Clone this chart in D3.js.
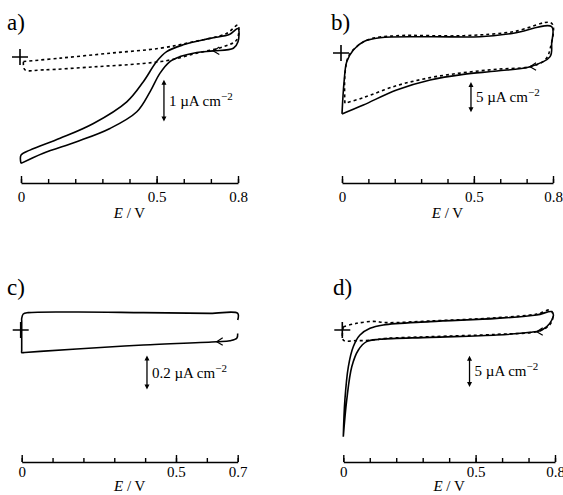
<!DOCTYPE html>
<html>
<head>
<meta charset="utf-8">
<script src="https://cdn.jsdelivr.net/npm/d3@7"></script>
<style>
  body { margin: 0; background: #fff; }
  svg text { font-family: "Liberation Serif", "DejaVu Serif", serif; fill: #000; }
</style>
</head>
<body>
<div class="svg-container"></div>
<script>
// potential (V) vs current density (uA cm^-2)

// panel a
let aSolid = [
  [0, -2.8], [0, -2.58], [0.033, -2.45], [0.144, -2.14], [0.267, -1.75], [0.39, -1.18],
  [0.451, -0.65], [0.5, -0.12], [0.537, 0.14], [0.598, 0.32], [0.697, 0.49], [0.77, 0.6],
  [0.8, 0.75], [0.8, 0.4], [0.783, 0.23], [0.709, 0.16], [0.648, 0.12], [0.586, 0.01],
  [0.549, -0.12], [0.512, -0.43], [0.476, -0.91], [0.427, -1.44], [0.328, -1.88],
  [0.205, -2.23], [0.082, -2.53], [0, -2.8]
]
let aDashed = [
  [0.009, -0.12], [0.144, -0.03], [0.328, 0.1], [0.512, 0.23], [0.635, 0.4], [0.758, 0.62],
  [0.8, 0.84], [0.795, 0.45], [0.746, 0.27], [0.648, 0.1], [0.549, -0.08], [0.451, -0.17],
  [0.267, -0.26], [0.082, -0.34], [0.015, -0.34], [0.009, -0.21], [0.009, -0.12]
]

// panel b
let bSolid = [
  [0, -10.5], [0.008, -4.9], [0.018, -1.5], [0.043, 0.52], [0.081, 1.95], [0.144, 2.64],
  [0.334, 2.81], [0.523, 2.81], [0.65, 3.4], [0.795, 4.53], [0.795, 1.67], [0.789, -0.63],
  [0.713, -2.36], [0.587, -3.1], [0.46, -3.68], [0.334, -4.66], [0.207, -6.38],
  [0.081, -8.97], [0, -10.5]
]
let bDashed = [
  [0.011, -8.67], [0.011, -3.79], [0.024, -0.63], [0.056, 1.09], [0.106, 2.41], [0.207, 2.98],
  [0.46, 2.98], [0.65, 3.67], [0.795, 5.12], [0.791, 1.09], [0.77, -1.2], [0.713, -2.36],
  [0.587, -2.8], [0.46, -3.4], [0.334, -4.25], [0.207, -5.63], [0.081, -7.7], [0.011, -8.67]
]

// panel c
let cSolid = [
  [0.7, -0.02], [0.697, -0.049], [0.675, -0.063], [0.632, -0.069], [0.394, -0.088],
  [0.178, -0.112], [0.06, -0.126], [0.01, -0.132], [0, -0.133], [0, -0.12], [0, 0.05],
  [0, 0.069], [0.005, 0.094], [0.021, 0.102], [0.178, 0.106], [0.394, 0.102], [0.61, 0.098],
  [0.7, 0.098], [0.7, 0.059]
]

// panel d
let dSolid = [
  [0, -17.4], [0.006, -11.4], [0.019, -6.0], [0.038, -2.7], [0.063, -0.82], [0.101, 0.27],
  [0.151, 0.82], [0.328, 1.36], [0.58, 1.9], [0.731, 2.45], [0.788, 3.0], [0.794, 2.45],
  [0.788, 1.63], [0.769, 0.54], [0.743, -0.11], [0.706, -0.38], [0.58, -0.82], [0.328, -1.2],
  [0.139, -1.52], [0.088, -1.9], [0.057, -3.26], [0.032, -6.0], [0.013, -11.4], [0, -17.4]
]
let dDashed = [
  [0, 0.54], [0.05, 1.09], [0.113, 1.4], [0.164, 1.2], [0.328, 1.47], [0.58, 2.0], [0.731, 2.6],
  [0.781, 3.26], [0.791, 2.72], [0.788, 1.36], [0.769, 0.43], [0.731, -0.27], [0.58, -0.71],
  [0.328, -1.09], [0.164, -1.36], [0.113, -1.63], [0.05, -1.74], [0, -1.63], [0, 0.54]
]

let aTicks = [0, 0.1, 0.2, 0.3, 0.4, 0.5, 0.6, 0.7, 0.8]
let bTicks = [0, 0.1, 0.2, 0.3, 0.4, 0.5, 0.6, 0.7, 0.8]
let cTicks = [0, 0.1, 0.2, 0.3, 0.4, 0.5, 0.6, 0.7]
let dTicks = [0, 0.1, 0.2, 0.3, 0.4, 0.5, 0.6, 0.7, 0.8]
let aLabels = [0, 0.5, 0.8]
let bLabels = [0, 0.5, 0.8]
let cLabels = [0, 0.5, 0.7]
let dLabels = [0, 0.5, 0.8]

// scale bars: [E, I top, I bottom], text
let aBar = [0.527, -0.6, -1.7], aBarText = '1'
let bBar = [0.489, -5.0, -10.2], bBarText = '5'
let cBar = [0.406, -0.15, -0.35], cBarText = '0.2'
let dBar = [0.477, -4.2, -9.3], dBarText = '5'

// scan-direction arrows on the return sweep
let aArrow = [0.709, 0.16]
let bArrow = [0.713, -2.36]
let cArrow = [0.632, -0.069]
let dArrow = [0.731, -0.3]

let width = 563
let height = 495

let svg = d3.select('.svg-container')
  .append('svg')
  .attr('width', width)
  .attr('height', height)

function drawPanel (p) {
  let xScale = d3.scaleLinear()
    .domain([0, p.xMax])
    .range([p.x0, p.x1])

  let yScale = d3.scaleLinear()
    .domain([0, 1])
    .range([p.zeroY, p.zeroY - p.pxPerUnit])

  let g = svg.append('g')

  // panel letter
  g.append('text')
    .attr('x', p.labelX)
    .attr('y', p.labelY)
    .style('font-size', '23px')
    .text(p.name)

  // minor ticks
  let minorAxis = d3.axisBottom(xScale)
    .tickValues(p.ticks)
    .tickSize(-4)
    .tickSizeOuter(0)
    .tickFormat('')
  g.append('g')
    .attr('transform', `translate(0, ${p.axisY})`)
    .call(minorAxis)
    .call(s => s.select('.domain').attr('stroke-width', 1.6))
    .call(s => s.selectAll('.tick line').attr('stroke-width', 1.4))

  // labelled ticks
  let majorAxis = d3.axisBottom(xScale)
    .tickValues(p.labels)
    .tickSize(-7)
    .tickSizeOuter(0)
    .tickPadding(p.labelGap)
    .tickFormat(d => String(d))
  g.append('g')
    .attr('transform', `translate(0, ${p.axisY})`)
    .call(majorAxis)
    .call(s => s.select('.domain').remove())
    .call(s => s.selectAll('.tick line').attr('stroke-width', 1.4))
    .call(s => s.selectAll('.tick text')
      .style('font-size', '15px')
      .style('font-family', '"Liberation Serif", serif')
      .attr('fill', '#000'))

  let axisTitle = g.append('text')
    .attr('x', (p.x0 + p.x1) / 2)
    .attr('y', p.axisY + p.titleGap)
    .attr('text-anchor', 'middle')
    .style('font-size', '15px')
  axisTitle.append('tspan').style('font-style', 'italic').text('E')
  axisTitle.append('tspan').text(' / V')

  let line = d3.line()
    .x(d => xScale(d[0]))
    .y(d => yScale(d[1]))
    .curve(d3.curveCatmullRom.alpha(0.5))

  if (p.dashed) {
    g.append('path')
      .datum(p.dashed)
      .attr('d', line)
      .attr('fill', 'none')
      .attr('stroke', '#000')
      .attr('stroke-width', 1.6)
      .attr('stroke-dasharray', '3,3')
  }

  g.append('path')
    .datum(p.solid)
    .attr('d', line)
    .attr('fill', 'none')
    .attr('stroke', '#000')
    .attr('stroke-width', 1.6)

  // plus sign marking zero current
  let px = xScale(0) - 1
  let py = yScale(0)
  g.append('path')
    .attr('d', `M${px - 8},${py}H${px + 8}M${px},${py - 8}V${py + 8}`)
    .attr('stroke', '#000')
    .attr('stroke-width', 1.6)

  // sweep arrow
  let ax = xScale(p.arrow[0])
  let ay = yScale(p.arrow[1])
  g.append('path')
    .attr('d', `M${ax + 6},${ay - 4}L${ax},${ay}L${ax + 6},${ay + 3.5}`)
    .attr('fill', 'none')
    .attr('stroke', '#000')
    .attr('stroke-width', 1.2)

  // scale bar
  let bx = xScale(p.bar[0])
  let by1 = yScale(p.bar[1])
  let by2 = yScale(p.bar[2])
  g.append('line')
    .attr('x1', bx).attr('x2', bx)
    .attr('y1', by1 + 3).attr('y2', by2 - 3)
    .attr('stroke', '#000')
    .attr('stroke-width', 1.3)
  g.append('path')
    .attr('d', `M${bx},${by1}l-2.5,5h5z M${bx},${by2}l-2.5,-5h5z`)
    .attr('fill', '#000')

  let barText = g.append('text')
    .attr('x', bx + 5)
    .attr('y', (by1 + by2) / 2 + 5)
    .style('font-size', '15px')
  barText.append('tspan').text(`${p.barText} \u00b5A cm`)
  barText.append('tspan')
    .attr('dy', -6)
    .style('font-size', '11px')
    .text('\u22122')
}

drawPanel({
  name: 'a)', labelX: 7, labelY: 30,
  x0: 21, x1: 238, xMax: 0.8, axisY: 183, zeroY: 57, pxPerUnit: 38,
  labelGap: 8, titleGap: 35,
  ticks: aTicks, labels: aLabels, solid: aSolid, dashed: aDashed,
  arrow: aArrow, bar: aBar, barText: aBarText
})

drawPanel({
  name: 'b)', labelX: 331, labelY: 30,
  x0: 342, x1: 553, xMax: 0.8, axisY: 183, zeroY: 53, pxPerUnit: 5.8,
  labelGap: 8, titleGap: 35,
  ticks: bTicks, labels: bLabels, solid: bSolid, dashed: bDashed,
  arrow: bArrow, bar: bBar, barText: bBarText
})

drawPanel({
  name: 'c)', labelX: 7, labelY: 295,
  x0: 21.7, x1: 237.7, xMax: 0.7, axisY: 462, zeroY: 330, pxPerUnit: 170,
  labelGap: 4, titleGap: 29,
  ticks: cTicks, labels: cLabels, solid: cSolid, dashed: null,
  arrow: cArrow, bar: cBar, barText: cBarText
})

drawPanel({
  name: 'd)', labelX: 333, labelY: 295,
  x0: 343.3, x1: 555, xMax: 0.8, axisY: 462, zeroY: 330, pxPerUnit: 6.13,
  labelGap: 4, titleGap: 29,
  ticks: dTicks, labels: dLabels, solid: dSolid, dashed: dDashed,
  arrow: dArrow, bar: dBar, barText: dBarText
})
</script>
</body>
</html>
